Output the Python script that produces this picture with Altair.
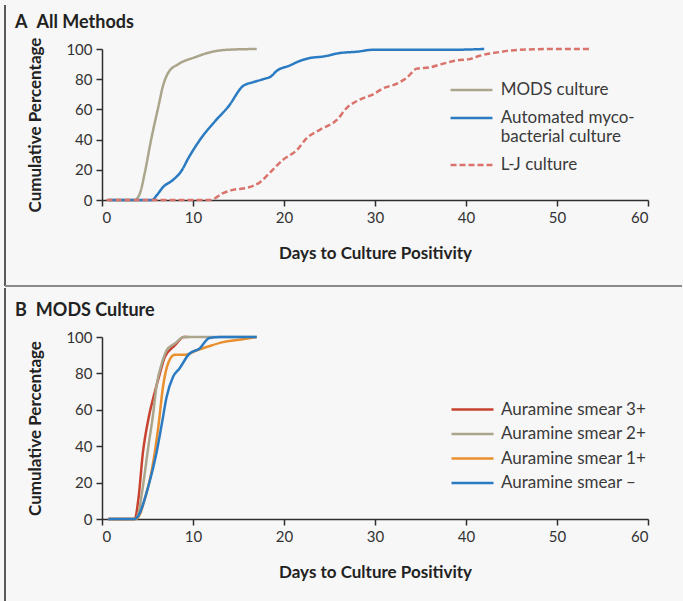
import altair as alt
import pandas as pd

# ---------------- Panel A: All Methods ----------------
series_a = ["MODS culture", "Automated myco-bacterial culture", "L-J culture"]
colors_a = ["#aba58c", "#2b7bc2", "#d9736b"]
dash_a = [[1, 0], [1, 0], [6, 3]]

mods_days = [0.7, 3.6, 4.2, 4.7, 5.4, 6.2, 6.7, 7.3, 8.4, 10.2, 12.0, 13.8, 17.0]
mods_pct = [0, 0, 5, 18, 40, 62, 75.5, 84.5, 90, 94.5, 98, 99.5, 100]

auto_days = [0.7, 5.5, 6.0, 6.7, 7.8, 8.7, 9.5, 10.9, 12.4, 13.9, 15.5, 16.6, 17.7,
             18.6, 19.2, 20.6, 21.7, 22.8, 24.3, 26.1, 28.0, 29.8, 38.5, 42.0]
auto_pct = [0, 0, 3, 8.5, 13.3, 19, 27.8, 41, 52, 62, 75.5, 78, 80,
            82, 85.5, 89, 92, 94, 95, 97.3, 98.2, 99.5, 99.5, 100]

lj_days = [0.5, 11.9, 13.3, 14.4, 15.9, 17.4, 18.4, 19.9, 21.4, 22.5, 24.0, 25.8, 26.9,
           28.4, 29.8, 30.9, 32.4, 33.5, 34.6, 36.0, 37.3, 39.1, 40.4, 41.5, 43.7, 45.9,
           49.5, 53.6]
lj_pct = [0, 0, 4.5, 6.7, 8, 12, 17.8, 26.7, 33, 41, 46.7, 53, 61,
          66.7, 70, 74, 77, 81, 87, 87.8, 90, 92.5, 93.3, 95.5, 98, 99.5,
          100, 100]

# ---------------- Panel B: MODS Culture ----------------
series_b = ["Auramine smear 3+", "Auramine smear 2+", "Auramine smear 1+", "Auramine smear \u2013"]
colors_b = ["#c8432f", "#aba58c", "#ea8f2e", "#2b7bc2"]

s3_days = [0.7, 3.6, 4.0, 4.5, 5.1, 5.8, 6.4, 6.9, 8.0, 9.0, 9.5]
s3_pct = [0, 0, 11, 36.7, 55, 69.7, 80.7, 89, 95.4, 100, 100]

s2_days = [0.7, 3.6, 4.0, 4.4, 5.1, 5.6, 6.0, 6.6, 7.1, 8.0, 9.0, 17.0]
s2_pct = [0, 0, 3, 14.6, 40, 57, 73.4, 86, 92.7, 96.4, 100, 100]

s1_days = [0.7, 3.8, 4.2, 4.7, 5.5, 6.2, 6.7, 7.3, 8.0, 9.2, 10.4, 11.5, 13.3, 15.1, 17.0]
s1_pct = [0, 0, 3, 11, 27.5, 51, 72.5, 86, 90.2, 90.2, 92.7, 94.5, 97.2, 98.5, 100]

sn_days = [0.7, 3.6, 4.0, 5.1, 6.0, 6.6, 7.1, 7.8, 8.5, 9.6, 10.7, 11.8, 13.0, 17.0]
sn_pct = [0, 0, 1.8, 18, 36.7, 53, 67, 78, 82.6, 90.8, 93.6, 99.5, 100, 100]

x_ticks = [0, 10, 20, 30, 40, 50, 60]
y_ticks = [0, 20, 40, 60, 80, 100]


def long_df(pairs):
    rows = []
    for name, days, pct in pairs:
        for i, (d, p) in enumerate(zip(days, pct)):
            rows.append({"series": name, "day": d, "pct": p, "idx": i})
    return pd.DataFrame(rows)


df_a = long_df([(series_a[0], mods_days, mods_pct),
                (series_a[1], auto_days, auto_pct),
                (series_a[2], lj_days, lj_pct)])
df_b = long_df([(series_b[0], s3_days, s3_pct),
                (series_b[1], s2_days, s2_pct),
                (series_b[2], s1_days, s1_pct),
                (series_b[3], sn_days, sn_pct)])

FONT = "Lato"
INK = "#2e2e2e"
FRAME = "#5a5a5a"

legend_common = dict(
    orient="none", title=None,
    symbolStrokeWidth=2.5, labelFont=FONT, labelFontSize=17, labelColor="#3a3a3a",
    labelLimit=0,
)

W = 546
HA = 151
HB = 182


def x_enc():
    return alt.X("day:Q", scale=alt.Scale(domain=[0, 60], nice=False, zero=False),
                 axis=alt.Axis(values=x_ticks, title="Days to Culture Positivity"))


def y_enc():
    return alt.Y("pct:Q", scale=alt.Scale(domain=[0, 100], nice=False),
                 axis=alt.Axis(values=y_ticks, title="Cumulative Percentage"))


leg_a = alt.Legend(legendX=349.5, legendY=21, rowPadding=0,
                   symbolType="M-1.14,0L1.14,0", symbolSize=1352, labelOffset=9.2,
                   labelExpr="datum.label == 'Automated myco-bacterial culture' ? ['Automated myco-', 'bacterial culture'] : datum.label",
                   **legend_common)

lines_a = alt.Chart(df_a).mark_line(interpolate="monotone", strokeWidth=2.5).encode(
    x=x_enc(), y=y_enc(),
    color=alt.Color("series:N", scale=alt.Scale(domain=series_a, range=colors_a), legend=leg_a),
    strokeDash=alt.StrokeDash("series:N", scale=alt.Scale(domain=series_a, range=dash_a), legend=leg_a),
    order="idx:Q",
)

frame_left_a = alt.Chart(df_a).mark_rule(color=FRAME, strokeWidth=2).encode(
    x=alt.value(-97), y=alt.value(-44), y2=alt.value(237))
frame_sep = alt.Chart(df_a).mark_rule(color="#8a8a8a", strokeWidth=2).encode(
    x=alt.value(-97), x2=alt.value(580), y=alt.value(237))

chart_a = alt.layer(frame_left_a, frame_sep, lines_a).properties(
    width=W, height=HA,
    title=alt.TitleParams("A\u2002All Methods", anchor="start", frame="group", dx=-87,
                          offset=-27.5, font=FONT, fontSize=18, fontWeight="bold", color="#222"),
)

leg_b = alt.Legend(legendX=348, legendY=62.5, rowPadding=4.5, clipHeight=20,
                   symbolType="stroke", symbolSize=1764, labelOffset=6, **legend_common)

lines_b = alt.Chart(df_b).mark_line(interpolate="monotone", strokeWidth=2.5).encode(
    x=x_enc(), y=y_enc(),
    color=alt.Color("series:N", scale=alt.Scale(domain=series_b, range=colors_b), legend=leg_b),
    order="idx:Q",
)

frame_left_b = alt.Chart(df_b).mark_rule(color=FRAME, strokeWidth=2).encode(
    x=alt.value(-97), y=alt.value(-48.5), y2=alt.value(263.5))

chart_b = alt.layer(frame_left_b, lines_b).properties(
    width=W, height=HB,
    title=alt.TitleParams("B\u2002MODS Culture", anchor="start", frame="group", dx=-87,
                          offset=-32.5, font=FONT, fontSize=18, fontWeight="bold", color="#222"),
)

chart = alt.vconcat(chart_a, chart_b, spacing=0).resolve_scale(
    color="independent", strokeDash="independent", x="independent", y="independent"
).configure(
    background="#f7f7f7", padding={"left": 4, "top": 4, "right": 0, "bottom": 0}
).configure_view(stroke=None).configure_axis(
    grid=False, domainColor=INK, domainWidth=1.5, tickColor=INK, tickWidth=1.5,
    tickSize=6, labelFont=FONT, labelFontSize=15, labelColor="#333", labelPadding=4,
    titleFont=FONT, titleFontSize=17, titleFontWeight="bold", titleColor="#222",
).configure_axisX(titlePadding=20.5).configure_axisY(titlePadding=21)

chart.save("out.html", embed_options={"renderer": "svg", "actions": False})
